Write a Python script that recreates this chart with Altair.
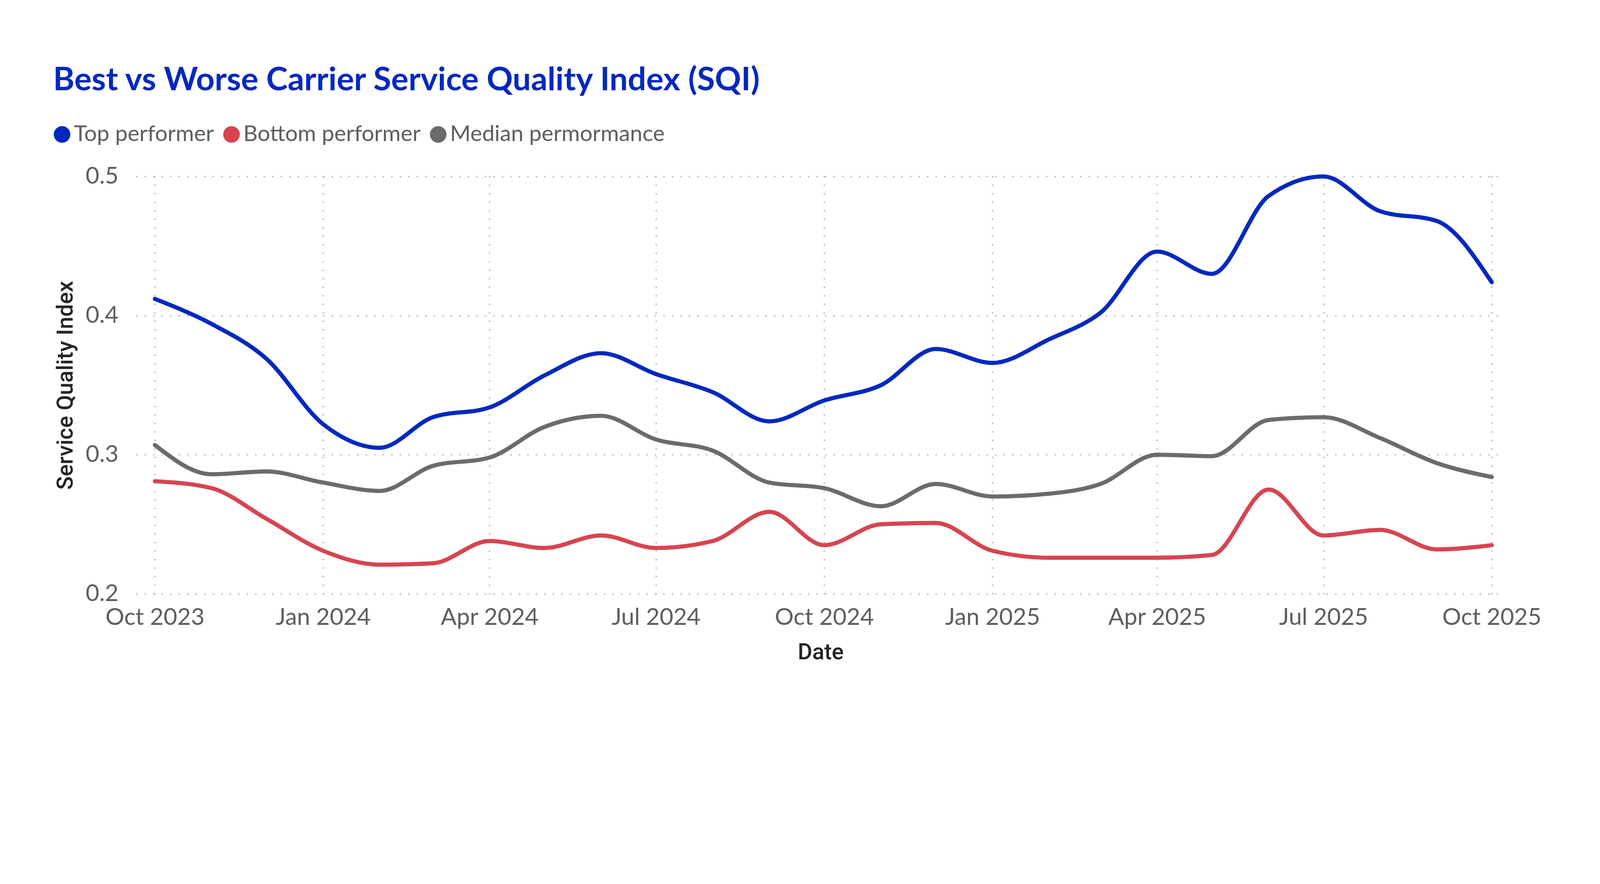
import altair as alt
import pandas as pd

months = [
    "2023-10-01", "2023-11-01", "2023-12-01", "2024-01-01", "2024-02-01",
    "2024-03-01", "2024-04-01", "2024-05-01", "2024-06-01", "2024-07-01",
    "2024-08-01", "2024-09-01", "2024-10-01", "2024-11-01", "2024-12-01",
    "2025-01-01", "2025-02-01", "2025-03-01", "2025-04-01", "2025-05-01",
    "2025-06-01", "2025-07-01", "2025-08-01", "2025-09-01", "2025-10-01",
]
top_performer = [0.412, 0.394, 0.369, 0.322, 0.305, 0.327, 0.334, 0.357, 0.373, 0.358,
                 0.345, 0.324, 0.339, 0.350, 0.376, 0.366, 0.383, 0.402, 0.446, 0.430,
                 0.486, 0.500, 0.475, 0.468, 0.424]
bottom_performer = [0.281, 0.276, 0.254, 0.231, 0.221, 0.222, 0.238, 0.233, 0.242, 0.233,
                    0.238, 0.259, 0.235, 0.250, 0.251, 0.231, 0.226, 0.226, 0.226, 0.228,
                    0.275, 0.242, 0.246, 0.232, 0.235]
median_performance = [0.307, 0.286, 0.288, 0.280, 0.274, 0.292, 0.298, 0.320, 0.328, 0.311,
                      0.303, 0.280, 0.276, 0.263, 0.279, 0.270, 0.272, 0.279, 0.300, 0.299,
                      0.325, 0.327, 0.312, 0.294, 0.284]

series_names = ["Top performer", "Bottom performer", "Median permormance"]
series_colors = ["#0028BE", "#D64550", "#6B6B6B"]

rows = []
for name, vals in zip(series_names, [top_performer, bottom_performer, median_performance]):
    for d, v in zip(months, vals):
        rows.append({"Date": d, "SQI": v, "Series": name, "order": series_names.index(name)})
df = pd.DataFrame(rows)

tick_dates = [alt.DateTime(year=y, month=m, date=1) for (y, m) in
              [(2023, 10), (2024, 1), (2024, 4), (2024, 7), (2024, 10),
               (2025, 1), (2025, 4), (2025, 7), (2025, 10)]]

label_color = "#605E5C"
title_color = "#252423"
grid_color = "#BDBDBD"

chart = alt.Chart(df).mark_line(
    interpolate="monotone", strokeWidth=13, strokeCap="round", strokeJoin="round"
).encode(
    x=alt.X(
        "Date:T",
        scale=alt.Scale(
            domain=[alt.DateTime(year=2023, month=9, date=21), alt.DateTime(year=2025, month=10, date=8)],
            nice=False,
        ),
        axis=alt.Axis(
            values=tick_dates, format="%b %Y", title="Date",
            labelFont="Lato", labelFontSize=74, labelColor=label_color, labelPadding=39,
            labelFlush=False, labelOverlap=False, labelLimit=2000,
            titleFont="Roboto", titleFontWeight=500, titleFontSize=70, titleColor=title_color,
            titleY=205, titleBaseline="alphabetic",
            domain=False, ticks=False, tickSize=0,
            grid=True, gridColor=grid_color, gridDash=[0.5, 26.2], gridWidth=5, gridCap="round",
        ),
    ),
    y=alt.Y(
        "SQI:Q",
        scale=alt.Scale(domain=[0.2, 0.5], nice=False, zero=False),
        axis=alt.Axis(
            values=[0.2, 0.3, 0.4, 0.5], format=".1f", title="Service Quality Index",
            labelFont="Lato", labelFontSize=74, labelColor=label_color, labelPadding=57,
            titleFont="Roboto", titleFontWeight=500, titleFontSize=70, titleColor=title_color,
            titleX=-201, titleY=655, titleBaseline="alphabetic", titleAngle=270, titleAlign="center",
            domain=False, ticks=False, tickSize=0,
            grid=True, gridColor=grid_color, gridDash=[0.5, 26.2], gridWidth=5, gridCap="round",
        ),
    ),
    color=alt.Color(
        "Series:N",
        scale=alt.Scale(domain=series_names, range=series_colors),
        sort=series_names,
        legend=alt.Legend(
            title=None, orient="none", legendX=-269, legendY=-167, direction="horizontal",
            symbolType="circle", symbolSize=676, symbolStrokeWidth=26, symbolOpacity=1,
            labelFont="Lato", labelFontSize=70, labelColor=label_color, labelOffset=2,
            columnPadding=-10, labelLimit=2000,
        ),
    ),
    order=alt.Order("order:Q"),
).properties(
    width=4295,
    height=1310,
    background="white",
    title=alt.TitleParams(
        "Best vs Worse Carrier Service Quality Index (SQI)",
        anchor="start", frame="group", dx=-262, offset=1,
        font="Lato", fontWeight="bold", fontSize=102, color="#0328BF", baseline="alphabetic",
    ),
    autosize=alt.AutoSizeParams(type="none"),
    padding={"left": 419, "top": 330, "right": 290, "bottom": 250},
).configure_view(stroke=None)

chart.save("out.html", embed_options={"renderer": "svg", "actions": False})
